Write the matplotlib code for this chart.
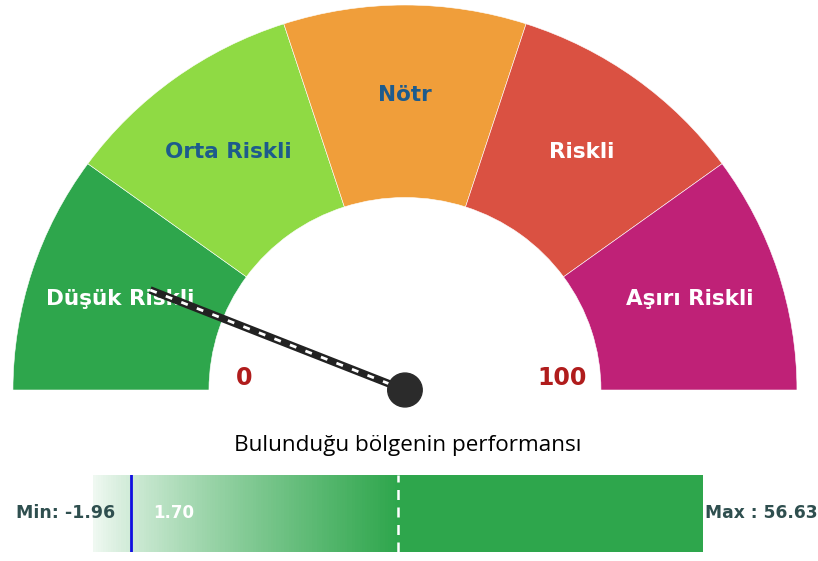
import numpy as np
import matplotlib.pyplot as plt
from matplotlib.patches import Wedge, Circle
from matplotlib.colors import to_rgb

# gauge data
segment_labels = ['Düşük Riskli', 'Orta Riskli', 'Nötr', 'Riskli', 'Aşırı Riskli']
segment_bounds = [0, 20, 40, 60, 80, 100]
segment_colors = ['#2ea64c', '#8fda44', '#f09e3a', '#da5142', '#bf2177']
label_colors = ['white', '#1d5b8c', '#1d5b8c', 'white', 'white']
needle_value = 12.1

# performance bar data
bar_title = 'Bulunduğu bölgenin performansı'
bar_min = -1.96
bar_max = 56.63
bar_current = 1.70

W, H = 818, 561
fig = plt.figure(figsize=(W / 100, H / 100), dpi=100)

font = 'DejaVu Sans'


def val2ang(v):
    return 180 - v / 100 * 180


# %% gauge
ax = fig.add_axes([1.2 / W, (H - 428.5) / H, 2.06 * 392 / W, 1.12 * 385 / H])
ax.set_xlim(-1.03, 1.03)
ax.set_ylim(-0.1, 1.02)
ax.axis('off')

r_out, r_in = 1.0, 0.5
for i, lab in enumerate(segment_labels):
    a1 = val2ang(segment_bounds[i + 1])
    a2 = val2ang(segment_bounds[i])
    ax.add_patch(Wedge((0, 0), r_out, a1, a2, width=r_out - r_in,
                       facecolor=segment_colors[i], edgecolor='white', lw=0.4))
    mid = np.radians((a1 + a2) / 2)
    ax.text(0.765 * np.cos(mid), 0.765 * np.sin(mid), lab, ha='center', va='center',
            fontsize=15.5, fontweight='bold', color=label_colors[i], family=font)

ax.text(-0.41, 0.03, str(segment_bounds[0]), ha='center', va='center',
        fontsize=17, fontweight='bold', color='#b01c1c', family=font)
ax.text(0.40, 0.03, str(segment_bounds[-1]), ha='center', va='center',
        fontsize=17, fontweight='bold', color='#b01c1c', family=font)

# needle
ang = np.radians(val2ang(needle_value))
L = 0.70
nx, ny = [0, L * np.cos(ang)], [0, L * np.sin(ang)]
ax.plot(nx, ny, color='#222222', lw=5.5, solid_capstyle='butt', zorder=5)
ax.plot(nx, ny, color='white', lw=2, ls=(0, (2.5, 3.5)), zorder=6)
ax.add_patch(Circle((0, 0), 0.044, color='#2b2b2b', zorder=7))

# %% title
fig.text(408 / W, 1 - 446 / H, bar_title, ha='center', va='center',
         fontsize=16.2, family='Open Sans', color='black')

# %% performance bar
bx = fig.add_axes([93 / W, (H - 552) / H, 610 / W, 77 / H])
bx.set_xlim(bar_min, bar_max)
bx.set_ylim(0, 1)
bx.axis('off')

green = to_rgb('#2ea64c')
mid_val = (bar_min + bar_max) / 2
n = 120
grad = np.zeros((1, n, 4))
grad[..., :3] = green
grad[0, :, 3] = np.linspace(0.04, 1, n) ** 0.8
bx.imshow(grad, extent=[bar_min, mid_val, 0, 1], aspect='auto', interpolation='nearest')
bx.axvspan(mid_val, bar_max, color=green, lw=0)
bx.axvline(mid_val, color='white', ls=(0, (4, 3)), lw=1.8)
bx.axvline(bar_current, color='#1010e0', lw=2)
bx.annotate(f'{bar_current:.2f}', xy=(bar_current, 0.5), xytext=(22, 0),
            textcoords='offset pixels', ha='left', va='center', color='white',
            fontsize=12, fontweight='bold', family=font)
bx.annotate(f'Min: {bar_min:.2f}', xy=(bar_min, 0.5), xytext=(22, 0),
            textcoords='offset pixels', ha='right', va='center', color='#2f4f4f',
            fontsize=12.5, fontweight='bold', family=font, annotation_clip=False)
bx.annotate(f'Max : {bar_max:.2f}', xy=(bar_max, 0.5), xytext=(2, 0),
            textcoords='offset pixels', ha='left', va='center', color='#2f4f4f',
            fontsize=12.3, fontweight='bold', family=font, annotation_clip=False)

fig.savefig('out.png', dpi=100)
